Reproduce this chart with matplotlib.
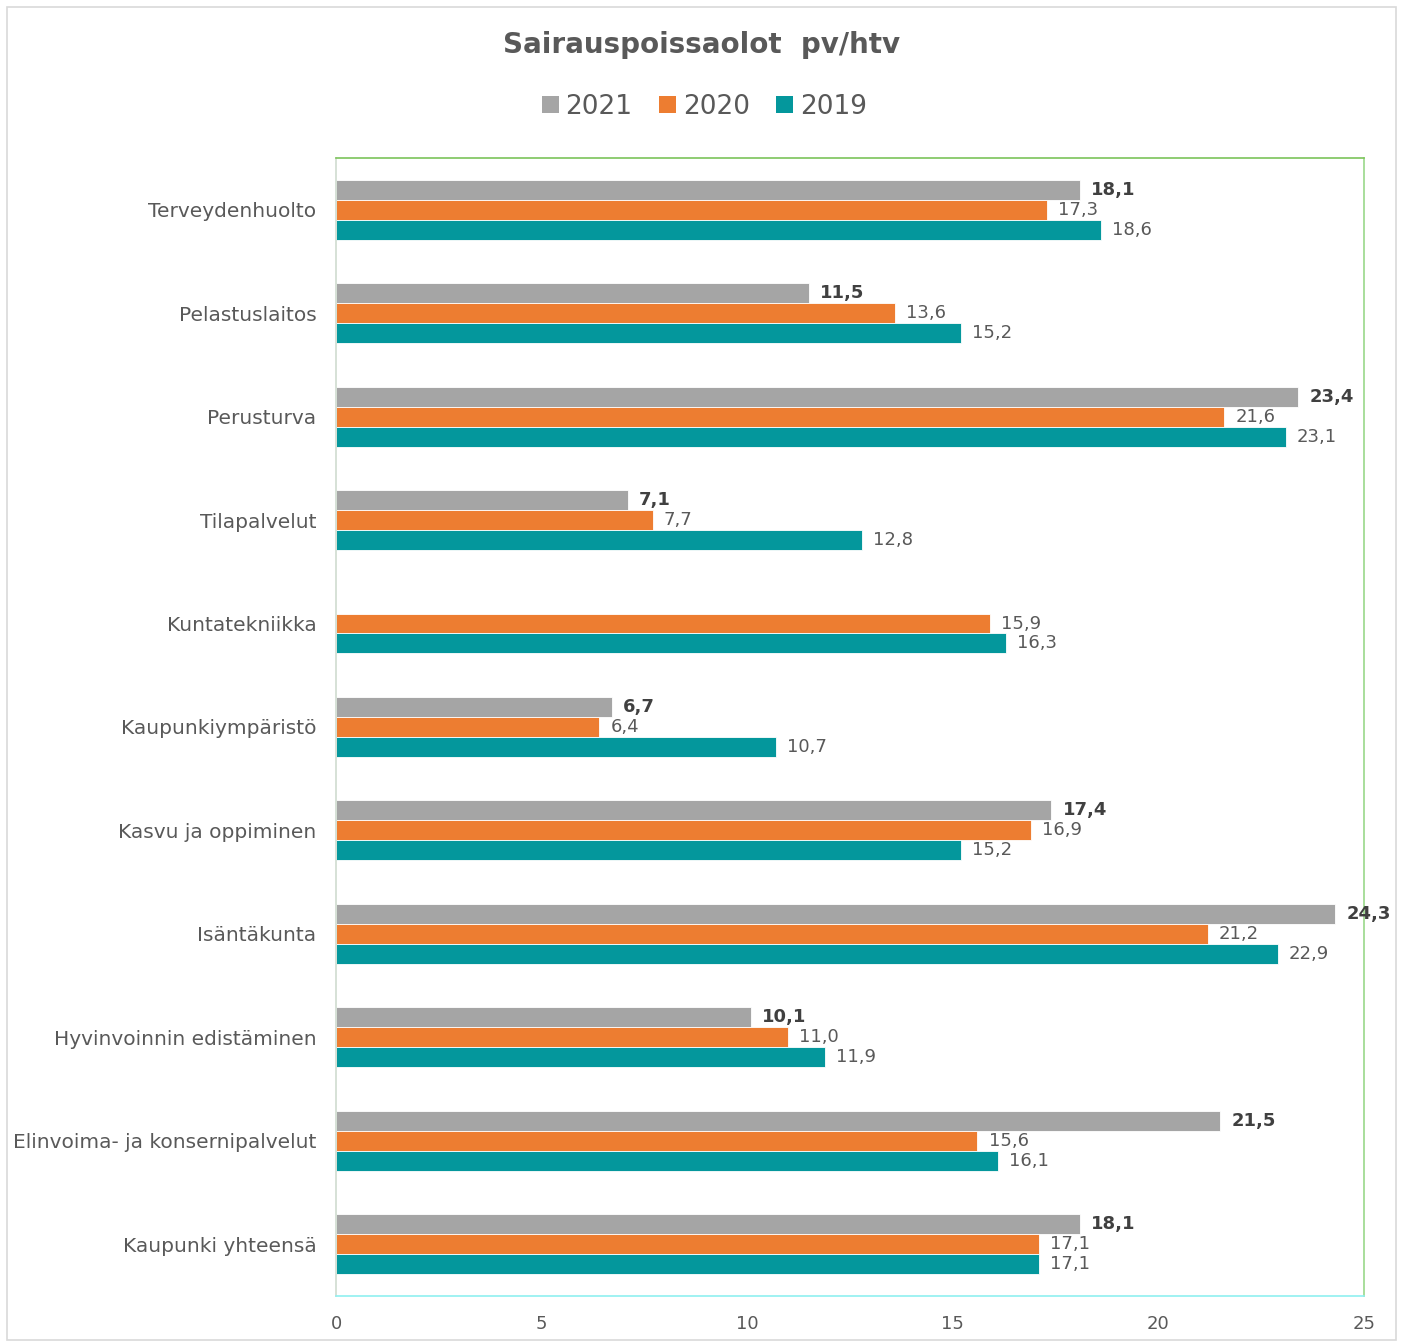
import numpy as np
import matplotlib.pyplot as plt
from matplotlib.patches import Patch, Rectangle

##data
categories = ['Terveydenhuolto', 'Pelastuslaitos', 'Perusturva', 'Tilapalvelut',
              'Kuntatekniikka', 'Kaupunkiympäristö', 'Kasvu ja oppiminen',
              'Isäntäkunta', 'Hyvinvoinnin edistäminen',
              'Elinvoima- ja konsernipalvelut', 'Kaupunki yhteensä']
v2021 = [18.1, 11.5, 23.4, 7.1, np.nan, 6.7, 17.4, 24.3, 10.1, 21.5, 18.1]
v2020 = [17.3, 13.6, 21.6, 7.7, 15.9, 6.4, 16.9, 21.2, 11.0, 15.6, 17.1]
v2019 = [18.6, 15.2, 23.1, 12.8, 16.3, 10.7, 15.2, 22.9, 11.9, 16.1, 17.1]
years = ['2021', '2020', '2019']
xticks = [0, 5, 10, 15, 20, 25]

##styles
colors = ['#A5A5A5', '#ED7D31', '#04979C']
txt = '#595959'
plt.rcParams['font.family'] = 'DejaVu Sans'

fig = plt.figure(figsize=(14.03, 13.42), dpi=100)
ax = fig.add_axes([0.2395, 0.0343, 0.7327, 0.848])

y = np.arange(len(categories))
h = 0.193
series = [v2021, v2020, v2019]
offsets = [-h, 0, h]
for vals, col, off, yr in zip(series, colors, offsets, years):
    vals = np.array(vals, dtype=float)
    ax.barh(y + off, vals, height=h, color=col, edgecolor='white', linewidth=0.6)
    for yi, v in zip(y, vals):
        if np.isnan(v):
            continue
        bold = yr == '2021'
        ax.annotate(f"{v:.1f}".replace('.', ','), (v, yi + off), xytext=(8, 0),
                    textcoords='offset points', va='center', ha='left',
                    fontsize=13, color='#404040' if bold else txt,
                    fontweight='bold' if bold else 'normal')

ax.set_ylim(len(categories) - 0.5, -0.5)
ax.set_xlim(0, 25)
ax.set_xticks(xticks)
ax.set_xticklabels([str(t) for t in xticks], fontsize=13, color=txt)
ax.set_yticks(y)
ax.set_yticklabels(categories, fontsize=14.5, color=txt)
ax.tick_params(axis='both', length=0)
ax.tick_params(axis='x', pad=14)
ax.tick_params(axis='y', pad=14)

#plot area border
ax.spines['top'].set_color('#7CC45A')
ax.spines['right'].set_color('#9AD88A')
ax.spines['bottom'].set_color('#8FF0F0')
ax.spines['left'].set_color('#D0DCD0')
for s in ax.spines.values():
    s.set_linewidth(1.2)

#title and legend
fig.text(0.5, 0.9665, 'Sairauspoissaolot  pv/htv', ha='center', va='center',
         fontsize=20, fontweight='bold', color=txt)
handles = [Patch(facecolor=c, edgecolor='none') for c in colors]
fig.legend(handles, years, loc='center', bbox_to_anchor=(0.502, 0.9205), ncol=3,
           frameon=False, fontsize=19, handlelength=0.65, handleheight=0.65,
           handletextpad=0.25, columnspacing=1.0, labelcolor=txt)

#figure border
fig.patches.append(Rectangle((0.005, 0.0015), 0.99, 0.993, transform=fig.transFigure,
                             fill=False, edgecolor='#D9D9D9', linewidth=1.2))

fig.savefig('out.png', dpi=100)
